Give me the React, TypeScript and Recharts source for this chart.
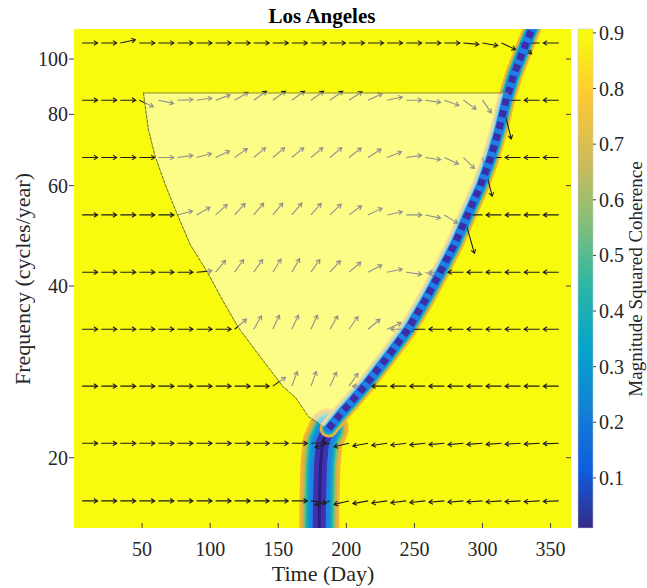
import React from 'react';
import {
  ComposedChart,
  XAxis,
  YAxis,
  CartesianGrid,
  Line,
  Area,
  Scatter,
} from 'recharts';

const W = 647;
const H = 588;
const SERIF = '"Liberation Serif", "Times New Roman", serif';
const INK = '#262626';

const xDomain: [number, number] = [0, 365];
const yDomain: [number, number] = [15.06, 112.9];
const xTicks = [50, 100, 150, 200, 250, 300, 350];
const yTicks = [20, 40, 60, 80, 100];
const cbTicks = [0.1, 0.2, 0.3, 0.4, 0.5, 0.6, 0.7, 0.8, 0.9];
const cbRange: [number, number] = [0.01, 0.907];

// low-coherence ridge, centre line (day, cycles/year)
const bandDays = [180, 180.3, 181, 182.5, 187, 196, 204.5, 214, 230, 245, 258, 269, 280, 289, 298.5, 306, 312, 317, 323, 330, 337.5];
const bandFreqs = [14.6, 16.9, 19.4, 21.3, 22.5, 23.9, 25.2, 26.8, 30.0, 33.5, 37.8, 42.3, 47.6, 53.3, 59.9, 67.1, 75.1, 84.1, 93.8, 103.7, 114.7];

// cone of influence, left edge
const coiDays = [51, 54.7, 59.8, 67.2, 76, 85.5, 98, 109, 120.8, 137, 153.8, 162.7, 172.2, 179.6];
const coiFreqs = [87.2, 75.1, 67.3, 60.1, 53.3, 47.2, 42.3, 37.8, 33.8, 30.0, 26.6, 25.5, 23.6, 23.0];
const coiTop = 87.2;
const coiRightDay = 318.5;

// phase arrows (degrees, 0 = in phase / pointing right)
const arrowDays = [6, 20, 34, 48, 62, 76, 90, 104, 118, 132, 146, 160, 174, 188, 202, 216, 230, 244, 258, 272, 286, 300, 314, 328, 342, 356];
const arrowFreqs = [16.8, 21.2, 26.7, 33.6, 42.3, 53.3, 67.2, 84.7, 106.7];
const phase16 = [0, 0, 0, 0, 0, 0, 0, 0, 0, 0, 0, 0, -8, 195, 193, 190, 188, 187, 186, 185, 185, 184, 184, 183, 183, 182];
const phase21 = [0, 0, 0, 0, 0, 0, 0, 0, 0, 0, 0, 0, 3, 195, 193, 190, 188, 187, 186, 185, 185, 184, 184, 183, 183, 182];
const phase27 = [0, 0, 0, 0, 0, 0, 0, 0, 0, 0, 35, 70, 70, 65, 55, 180, 180, 180, 180, 180, 180, 180, 180, 180, 180, 180];
const phase34 = [0, 0, 0, 0, 0, 0, 0, 0, 40, 60, 65, 65, 65, 60, 55, 40, 25, 180, 180, 180, 180, 180, 180, 180, 180, 180];
const phase42 = [0, 0, 0, 0, 0, 0, 5, 50, 55, 55, 58, 60, 55, 48, 40, 28, 12, -8, -25, 180, 180, 180, 180, 180, 180, 180];
const phase53 = [0, 0, 0, 0, 0, 15, 30, 42, 48, 50, 50, 50, 48, 44, 36, 26, 12, 0, -12, -32, -74, 180, 180, 180, 180, 180];
const phase67 = [0, 0, 0, 0, 0, 8, 15, 25, 35, 40, 40, 40, 40, 40, 38, 33, 22, 8, -8, -25, -45, -76, 180, 180, 180, 180];
const phase85 = [0, 0, 0, -25, -12, 2, 8, 20, 30, 35, 35, 35, 35, 35, 33, 25, 12, 0, -8, -20, -35, -55, -76, 180, 180, 180];
const phase107 = [0, 0, 12, 0, 0, 0, 0, 0, 0, 0, 0, 0, 0, 0, 0, 0, 0, 0, 0, 0, -5, -10, -25, -45, 180, 180];
const phaseRows = [phase16, phase21, phase27, phase34, phase42, phase53, phase67, phase85, phase107];
const longCols = [-1, -1, -1, -1, -1, 20, 21, 22, -1];

const parula: [number, string][] = [
  [0, '#352a87'], [0.125, '#0f5cdd'], [0.25, '#1481d6'], [0.375, '#06a4ca'],
  [0.5, '#2eb7a4'], [0.625, '#87bf77'], [0.75, '#d1bb59'], [0.875, '#fec832'], [1, '#f9fb0e'],
];

const bandLower = bandDays.slice(0, 5).map((x, i) => ({ x, y: bandFreqs[i] }));
const bandUpper = bandDays.slice(4).map((x, i) => ({ x, y: bandFreqs[i + 4] }));

const coiEdge = coiDays.map((x, i) => ({ x, y: coiFreqs[i] }));
const coiTopEdge = [{ x: coiDays[0], y: coiTop }, { x: coiRightDay, y: coiTop }];
const overlay = [
  ...coiDays.map((x, i) => ({ x, r: [coiFreqs[i], coiTop] })),
  ...bandDays
    .map((x, i) => ({ x, r: [bandFreqs[i], coiTop] }))
    .filter((d) => d.x > coiDays[coiDays.length - 1] && d.r[0] < coiTop && d.r[0] > 22),
  { x: coiRightDay, r: [coiTop, coiTop] },
];

const arrows = arrowFreqs.flatMap((y, r) =>
  arrowDays.map((x, c) => ({ x, y, a: phaseRows[r][c], long: longCols[r] === c }))
);

const PhaseArrow = (props: any) => {
  const { cx, cy, payload } = props;
  if (cx == null || cy == null) return null;
  const len = payload.long ? 40 : 15.5;
  const t = (payload.a * Math.PI) / 180;
  const x2 = cx + len * Math.cos(t);
  const y2 = cy - len * Math.sin(t);
  const h = 4.5;
  const s = (32 * Math.PI) / 180;
  const b1x = x2 - h * Math.cos(t - s);
  const b1y = y2 + h * Math.sin(t - s);
  const b2x = x2 - h * Math.cos(t + s);
  const b2y = y2 + h * Math.sin(t + s);
  return (
    <path
      d={`M${cx},${cy}L${x2},${y2}M${b1x},${b1y}L${x2},${y2}L${b2x},${b2y}`}
      stroke="#1f1f1f"
      strokeWidth={1.1}
      fill="none"
    />
  );
};

const lineBase = {
  dataKey: 'y',
  type: 'linear' as const,
  dot: false,
  activeDot: false,
  isAnimationActive: false,
  legendType: 'none' as const,
  strokeLinecap: 'round' as const,
  strokeLinejoin: 'round' as const,
};

// outer rim of the ridge, widest first
const lowerRims: [string, number][] = [
  ['#f7b23b', 40], ['#cdb53f', 35], ['#7dbf6e', 31], ['#2db8a8', 28],
  ['#0ea6cc', 25], ['#1e86e0', 21], ['#3d33b0', 13],
];
const upperRims: [string, number][] = [
  ['#f7b23b', 18], ['#cdb53f', 15.5], ['#7dbf6e', 13.5], ['#2db8a8', 12], ['#0ea6cc', 11],
];

const cbY = (v: number) => 29 + ((cbRange[1] - v) / (cbRange[1] - cbRange[0])) * 499;

export default function App() {
  return (
    <div style={{ position: 'absolute', left: 0, top: 0, width: W, height: H }}>
      <ComposedChart width={W} height={H} margin={{ top: 28, right: 75, bottom: 20, left: 14 }}>
        <CartesianGrid fill="#f9fb0e" horizontal={false} vertical={false} />
        <XAxis
          dataKey="x"
          type="number"
          domain={xDomain}
          ticks={xTicks}
          allowDataOverflow
          interval={0}
          height={40}
          tickSize={-5}
          tickMargin={19}
          axisLine={false}
          tickLine={{ stroke: '#404040' }}
          tick={{ fontSize: 20, fill: INK, fontFamily: SERIF }}
        />
        <XAxis
          xAxisId="top"
          orientation="top"
          type="number"
          domain={xDomain}
          ticks={xTicks}
          allowDataOverflow
          height={1}
          tickSize={-5}
          axisLine={false}
          tickLine={{ stroke: '#404040' }}
          tickFormatter={() => ''}
        />
        <YAxis
          type="number"
          scale="log"
          domain={yDomain}
          ticks={yTicks}
          allowDataOverflow
          interval={0}
          width={60}
          tickSize={5}
          tickMargin={1}
          axisLine={false}
          tickLine={{ stroke: '#404040' }}
          tick={{ fontSize: 20, fill: INK, fontFamily: SERIF }}
        />
        <YAxis
          yAxisId="right"
          orientation="right"
          type="number"
          scale="log"
          domain={yDomain}
          ticks={yTicks}
          allowDataOverflow
          width={1}
          tickSize={-5}
          axisLine={false}
          tickLine={{ stroke: '#404040' }}
          tickFormatter={() => ''}
        />

        {lowerRims.map(([c, w], i) => (
          <Line key={`lo${i}`} {...lineBase} data={bandLower} stroke={c} strokeWidth={w} zIndex={400} />
        ))}
        <Line {...lineBase} data={bandLower} stroke="#2a1f80" strokeWidth={3} zIndex={400} />
        {upperRims.map(([c, w], i) => (
          <Line key={`up${i}`} {...lineBase} data={bandUpper} stroke={c} strokeWidth={w} zIndex={400} />
        ))}

        <Scatter
          data={arrows}
          dataKey="y"
          shape={PhaseArrow}
          isAnimationActive={false}
          legendType="none"
          zIndex={600}
        />

        <Area
          data={overlay}
          dataKey="r"
          type="linear"
          stroke="none"
          fill="#ffffff"
          fillOpacity={0.5}
          dot={false}
          activeDot={false}
          isAnimationActive={false}
          legendType="none"
          zIndex={700}
        />

        <Line {...lineBase} data={bandUpper} stroke="#1e7fe6" strokeWidth={9} zIndex={750} />
        <Line {...lineBase} data={bandUpper} stroke="#3b2fa8" strokeWidth={7} strokeLinecap="butt" strokeDasharray="7 5" zIndex={760} />

        <Line {...lineBase} data={coiEdge} stroke="#5a5a30" strokeWidth={0.9} strokeDasharray="3 1.5" zIndex={800} />
        <Line {...lineBase} data={coiTopEdge} stroke="#8a8a3a" strokeWidth={1} zIndex={800} />
      </ComposedChart>

      <svg width={W} height={H} style={{ position: 'absolute', left: 0, top: 0, pointerEvents: 'none' }}>
        <defs>
          <linearGradient id="parulaBar" x1="0" y1="1" x2="0" y2="0">
            {parula.map(([t, c]) => (
              <stop
                key={t}
                offset={Math.min(1, Math.max(0, (t * 0.9 - cbRange[0]) / (cbRange[1] - cbRange[0])))}
                stopColor={c}
              />
            ))}
          </linearGradient>
        </defs>
        <text x={322} y={23} textAnchor="middle" fontFamily={SERIF} fontWeight="bold" fontSize={21} fill="#000">
          Los Angeles
        </text>
        <text x={323} y={581} textAnchor="middle" fontFamily={SERIF} fontSize={22} fill={INK}>
          Time (Day)
        </text>
        <text transform="translate(30,279) rotate(-90)" textAnchor="middle" fontFamily={SERIF} fontSize={22} fill={INK}>
          Frequency (cycles/year)
        </text>

        <rect x={578} y={29} width={15} height={499} fill="url(#parulaBar)" stroke="#c8c8c8" strokeWidth={0.5} />
        {cbTicks.map((v) => (
          <g key={v}>
            <line x1={593} x2={596} y1={cbY(v)} y2={cbY(v)} stroke="#404040" />
            <text x={599} y={cbY(v)} dominantBaseline="central" fontFamily={SERIF} fontSize={20} fill={INK}>
              {v.toFixed(1)}
            </text>
          </g>
        ))}
        <text transform="translate(642,279) rotate(-90)" textAnchor="middle" fontFamily={SERIF} fontSize={19} fill={INK}>
          Magnitude Squared Coherence
        </text>
      </svg>
    </div>
  );
}
